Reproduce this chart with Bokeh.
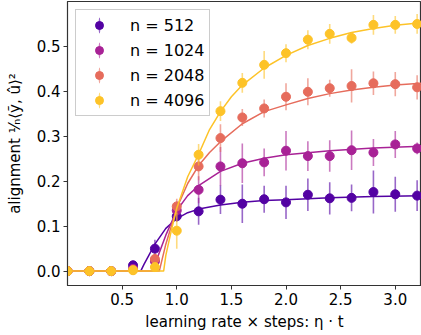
from bokeh.plotting import figure
from bokeh.models import ColumnDataSource, Range1d, FixedTicker, Legend, LegendItem, PrintfTickFormatter
from bokeh.embed import file_html
from bokeh.resources import INLINE

# ---- data ----
t = [0.0, 0.2, 0.4, 0.6, 0.8, 1.0, 1.2, 1.4, 1.6, 1.8, 2.0, 2.2, 2.4, 2.6, 2.8, 3.0, 3.2]

labels = ["n = 512", "n = 1024", "n = 2048", "n = 4096"]
colors = ["#5302a3", "#a82296", "#e66c5c", "#fdc328"]

y512 = [0.0, 0.0, 0.0, 0.013, 0.05, 0.122, 0.133, 0.159, 0.150, 0.160, 0.153, 0.170, 0.162, 0.163, 0.176, 0.171, 0.168]
e512 = [0.003, 0.003, 0.003, 0.01, 0.02, 0.012, 0.03, 0.032, 0.043, 0.03, 0.037, 0.036, 0.036, 0.03, 0.048, 0.039, 0.034]

y1024 = [0.0, 0.0, 0.0, 0.005, 0.022, 0.135, 0.181, 0.233, 0.240, 0.242, 0.268, 0.256, 0.256, 0.269, 0.264, 0.282, 0.273]
e1024 = [0.002, 0.002, 0.002, 0.005, 0.015, 0.02, 0.03, 0.043, 0.044, 0.031, 0.044, 0.033, 0.035, 0.044, 0.03, 0.03, 0.013]

y2048 = [0.0, 0.0, 0.0, 0.003, 0.027, 0.144, 0.233, 0.296, 0.342, 0.362, 0.388, 0.399, 0.407, 0.412, 0.418, 0.416, 0.409]
e2048 = [0.002, 0.002, 0.002, 0.004, 0.012, 0.017, 0.031, 0.031, 0.019, 0.02, 0.03, 0.03, 0.019, 0.037, 0.026, 0.027, 0.027]

y4096 = [0.0, 0.0, 0.0, 0.002, 0.009, 0.090, 0.259, 0.356, 0.419, 0.459, 0.485, 0.515, 0.528, 0.519, 0.548, 0.548, 0.550]
e4096 = [0.002, 0.002, 0.002, 0.003, 0.008, 0.04, 0.024, 0.022, 0.022, 0.031, 0.02, 0.021, 0.022, 0.013, 0.022, 0.02, 0.022]

# fitted curves
c512_t = [0.0, 0.67, 0.7, 0.8, 0.9, 1.0, 1.1, 1.2, 1.4, 1.6, 1.8, 2.0, 2.4, 2.8, 3.24]
c512_y = [0.0, 0.0, 0.015, 0.06, 0.095, 0.117, 0.130, 0.138, 0.147, 0.153, 0.157, 0.159, 0.163, 0.166, 0.168]

c1024_t = [0.0, 0.78, 0.8, 0.9, 1.0, 1.1, 1.2, 1.4, 1.6, 1.8, 2.0, 2.4, 2.8, 3.24]
c1024_y = [0.0, 0.0, 0.015, 0.08, 0.135, 0.168, 0.19, 0.222, 0.24, 0.251, 0.259, 0.268, 0.274, 0.278]

c2048_t = [0.0, 0.84, 0.9, 1.0, 1.1, 1.2, 1.3, 1.4, 1.6, 1.8, 2.0, 2.2, 2.4, 2.6, 2.8, 3.0, 3.24]
c2048_y = [0.0, 0.0, 0.06, 0.14, 0.195, 0.235, 0.264, 0.288, 0.328, 0.355, 0.37, 0.384, 0.395, 0.403, 0.409, 0.414, 0.418]

c4096_t = [0.0, 0.88, 0.9, 0.95, 1.0, 1.1, 1.2, 1.3, 1.4, 1.5, 1.6, 1.8, 2.0, 2.2, 2.4, 2.6, 2.8, 3.0, 3.24]
c4096_y = [0.0, 0.0, 0.035, 0.09, 0.14, 0.21, 0.26, 0.315, 0.355, 0.388, 0.414, 0.452, 0.48, 0.502, 0.518, 0.531, 0.540, 0.547, 0.553]

x_ticks = [0.5, 1.0, 1.5, 2.0, 2.5, 3.0]
y_ticks = [0.0, 0.1, 0.2, 0.3, 0.4, 0.5]

series = [
    (y512, e512, c512_t, c512_y),
    (y1024, e1024, c1024_t, c1024_y),
    (y2048, e2048, c2048_t, c2048_y),
    (y4096, e4096, c4096_t, c4096_y),
]

FONT = "DejaVu Sans"

p = figure(width=421, height=334, output_backend="svg", toolbar_location=None,
           x_range=Range1d(0.0, 3.24), y_range=Range1d(-0.032, 0.6),
           min_border_left=67, min_border_right=0, min_border_top=1, min_border_bottom=49)
p.grid.visible = False
p.outline_line_color = "#333333"
p.outline_line_width = 1.2
p.background_fill_color = "white"
p.border_fill_color = "white"

p.xaxis.ticker = FixedTicker(ticks=x_ticks)
p.yaxis.ticker = FixedTicker(ticks=y_ticks)
p.xaxis.formatter = PrintfTickFormatter(format="%.1f")
p.yaxis.formatter = PrintfTickFormatter(format="%.1f")
for ax in (p.xaxis, p.yaxis):
    ax.major_label_text_font = FONT
    ax.major_label_text_font_size = "15px"
    ax.major_label_text_color = "black"
    ax.axis_label_text_font = FONT
    ax.axis_label_text_font_size = "15px"
    ax.axis_label_text_font_style = "normal"
    ax.axis_label_text_color = "black"
    ax.minor_tick_line_color = None
    ax.major_tick_out = 4
    ax.major_tick_in = 0
    ax.axis_line_color = "#333333"
    ax.major_tick_line_color = "#333333"
p.xaxis.axis_label = "learning rate × steps: η · t"
p.yaxis.axis_label = "alignment ¹⁄ₙ⟨ỹ, û⟩²"
p.xaxis.axis_label_standoff = 5
p.yaxis.axis_label_standoff = 10
p.xaxis.major_label_standoff = 3
p.yaxis.major_label_standoff = 3

items = []
for (yv, ev, ct, cy), col, lab in zip(series, colors, labels):
    lo = [a - b for a, b in zip(yv, ev)]
    hi = [a + b for a, b in zip(yv, ev)]
    src = ColumnDataSource(dict(x=t, y=yv, lo=lo, hi=hi))
    p.line(ct, cy, line_color=col, line_width=1.5)
    p.segment(x0="x", y0="lo", x1="x", y1="hi", source=src,
              line_color=col, line_alpha=0.6, line_width=1.6)
    # thin ellipse hidden under each marker: gives the legend a vertical error-bar glyph
    bar = p.ellipse(x="x", y="y", width=0.12, height=1.0, width_units="screen",
                    height_units="screen", source=src, fill_color=col, fill_alpha=0.6,
                    line_color=None)
    sc = p.scatter("x", "y", source=src, size=9, fill_color=col, line_color=col)
    items.append(LegendItem(label=lab, renderers=[bar, sc]))

legend = Legend(items=items, location="top_left")
legend.label_text_font = FONT
legend.label_text_font_size = "16px"
legend.label_text_font_style = "normal"
legend.label_text_color = "black"
legend.border_line_color = "#cccccc"
legend.border_line_alpha = 1.0
legend.background_fill_alpha = 0.9
legend.margin = 8
legend.padding = 5
legend.spacing = 5
legend.glyph_width = 36
legend.glyph_height = 20
legend.label_standoff = 13
legend.label_height = 20
p.add_layout(legend)

open("out.html", "w").write(file_html(p, INLINE))
